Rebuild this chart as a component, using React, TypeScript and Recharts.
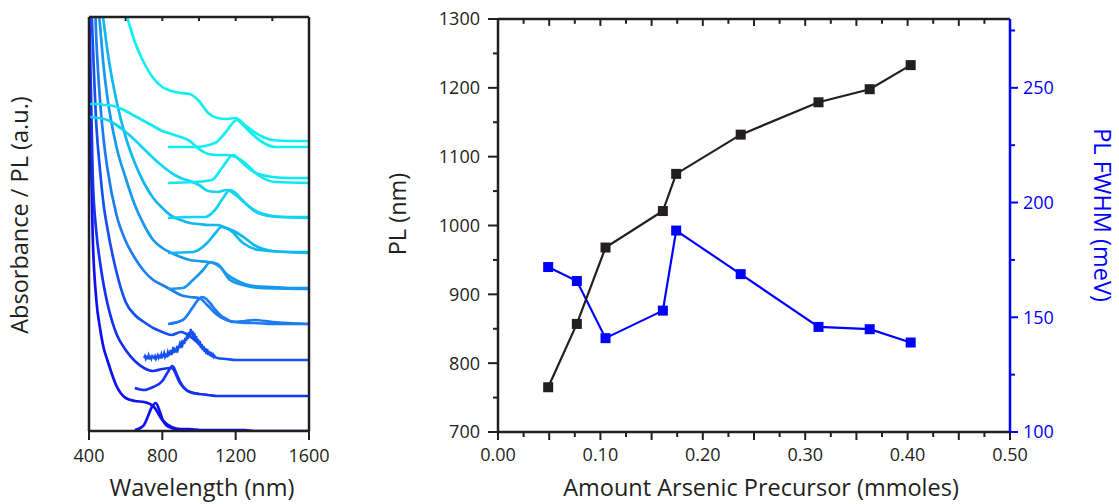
import React from 'react';
import { LineChart, Line, XAxis, YAxis, ReferenceLine } from 'recharts';

const FONT = '"Open Sans", "Noto Sans", sans-serif';
const INK = '#231f20';
const BLUE = '#0000ff';

// ---- left panel: stacked absorbance / PL spectra (a.u., bottom sample first) ----
const absWave = [400, 420, 440, 460, 480, 500, 550, 600, 650, 700, 750, 800, 850, 900, 950, 1000, 1050, 1100, 1150, 1200, 1250, 1300, 1400, 1500, 1600];
const absOffsets = [0, 35, 71, 107, 143, 179, 214, 253, 290];
const absSpectra = [
  [378, 196, 131, 103, 83, 71, 45, 33, 30, 29, 25, 11, 4, 2, 2, 1, 1, 1, 1, 1, 1, 0, 0, 0, 0],
  [396, 221, 164, 134, 111, 93, 62, 46, 35, 28, 25, 27, 28, 12, 4, 2, 1, 0, 0, 0, 0, 0, 0, 0, 0],
  [420, 320, 235, 190, 155, 132, 88, 58, 45, 38, 32, 28, 25, 28, 24, 16, 7, 2, 1, 0, 0, 0, 0, 0, 0],
  [524, 384, 284, 224, 184, 156, 109, 83, 66, 53, 44, 39, 34, 29, 27, 26, 18, 9, 4, 2, 1, 1, 0, 0, 0],
  [408, 348, 298, 263, 221, 191, 141, 110, 83, 63, 48, 40, 35, 31, 28, 27, 26, 24, 14, 8, 4, 2, 1, 0, 0],
  [402, 342, 292, 257, 230, 202, 151, 115, 89, 69, 54, 44, 36, 32, 29, 28, 27, 27, 24, 20, 14, 7, 1, 0, 0],
  [100, 100, 99, 99, 98, 97, 92, 85, 77, 68, 59, 51, 44, 39, 36, 32, 26, 25, 27, 22, 14, 7, 1, 0, 0],
  [74, 74, 74, 74, 73, 73, 71, 67, 62, 57, 52, 47, 44, 41, 37, 29, 24, 23, 23, 21, 13, 6, 1, 0, 0],
  [391, 341, 301, 266, 236, 211, 161, 129, 99, 78, 63, 54, 50, 48, 47, 40, 28, 23, 22, 23, 16, 9, 1, 0, 0],
];
const plOffsets = [1, 35, 72, 107, 142, 178, 213, 248, 284];
const plWaves = [
  [650, 680, 700, 720, 740, 765, 785, 800, 820, 850, 900, 1000],
  [650, 700, 750, 800, 830, 855, 880, 900, 930, 970, 1000],
  [700, 705, 710, 715, 720, 725, 730, 735, 740, 745,
    750, 755, 760, 765, 770, 775, 780, 785, 790, 795,
    800, 805, 810, 815, 820, 825, 830, 835, 840, 845,
    850, 855, 860, 865, 870, 875, 880, 885, 890, 895,
    900, 905, 910, 915, 920, 925, 930, 935, 940, 945,
    950, 955, 960, 965, 970, 975, 980, 985, 990, 995,
    1000, 1005, 1010, 1015, 1020, 1025, 1030, 1035, 1040, 1045,
    1050, 1055, 1060, 1065, 1070, 1075, 1080, 1085, 1090],
  [831, 912, 967, 990, 1016, 1040, 1060, 1090, 1115, 1150, 1185, 1250, 1300, 1400, 1600],
  [831, 912, 967, 1022, 1062, 1090, 1115, 1170, 1240, 1330, 1600],
  [831, 967, 1044, 1090, 1122, 1170, 1240, 1330, 1600],
  [831, 978, 1033, 1087, 1131, 1169, 1200, 1235, 1322, 1431, 1600],
  [831, 978, 1071, 1125, 1187, 1220, 1251, 1322, 1415, 1600],
  [831, 978, 1087, 1142, 1207, 1240, 1267, 1344, 1415, 1600],
];
const plSpectra = [
  [0, 2, 5, 13, 22, 27, 19, 11, 5, 2, 0, 0],
  [8, 6, 9, 15, 24, 30, 21, 13, 6, 3, 2],
  [1, 3, 0, 2, 1, 4, 1, 2, 0, 3,
    2, 1, 3, 0, 2, 4, 1, 3, 2, 5,
    2, 3, 6, 2, 4, 3, 7, 4, 5, 9,
    4, 7, 12, 6, 9, 8, 13, 9, 12, 15,
    11, 16, 14, 19, 15, 21, 18, 24, 20, 27,
    22, 30, 24, 28, 21, 26, 19, 23, 16, 20,
    14, 18, 11, 15, 9, 13, 7, 11, 5, 10,
    4, 8, 3, 7, 2, 6, 2, 3, 1],
  [0, 4, 17, 23, 27, 25, 21, 14, 9, 5, 2, 3, 4, 2, 0],
  [0, 1, 9, 19, 27, 25, 22, 9, 4, 1, 0],
  [0, 1, 10, 20, 26, 23, 10, 3, 0],
  [0, 1, 1, 8, 20, 28, 25, 18, 5, 1, 0],
  [0, 1, 3, 15, 28, 24, 20, 8, 1, 0],
  [0, 0, 4, 14, 27, 22, 17, 5, 0, 0],
];
const sampleColors = ['#1010ee', '#1432f2', '#1450f2', '#1c7cf0', '#1898ee', '#10b8f0', '#10d4f0', '#10e8f2', '#10f0f2'];
const noisySample = 2;
const wavelengthTicks = [400, 800, 1200, 1600];
const wavelengthTopTicks = [600, 800, 1000, 1200, 1400];
const auMax = 414;

// ---- right panel: PL position and width vs arsenic precursor ----
const arsenicAmount = [0.049, 0.077, 0.105, 0.161, 0.174, 0.237, 0.313, 0.363, 0.403];
const plPeakNm = [765, 857, 968, 1021, 1075, 1132, 1179, 1198, 1233];
const plFwhmMeV = [171.9, 165.8, 140.9, 152.9, 187.8, 168.8, 145.8, 144.8, 139.0];
const amountTicks = [0, 0.025, 0.05, 0.075, 0.1, 0.125, 0.15, 0.175, 0.2, 0.225, 0.25, 0.275, 0.3, 0.325, 0.35, 0.375, 0.4, 0.425, 0.45, 0.475, 0.5];
const plTicks = [700, 750, 800, 850, 900, 950, 1000, 1050, 1100, 1150, 1200, 1250, 1300];
const fwhmTicks = [100, 125, 150, 175, 200, 225, 250, 275];
const plMax = 1300;

const onStep = (v: number, step: number) => Math.abs(v / step - Math.round(v / step)) < 1e-6;

type Side = 'left' | 'right' | 'bottom';
interface TickStyle {
  side: Side;
  size: number;
  gap: number;
  len: (v: number) => number;
  label: (v: number) => string;
  color: string;
}

// draws its own tick lines so minor ticks can be shorter than major ones
function tickRenderer(s: TickStyle) {
  return (props: any) => {
    const { x, y, payload, index } = props;
    const v = payload.value as number;
    const len = s.len(v);
    const txt = s.label(v);
    const font = { fill: s.color, fontSize: 18, fontFamily: FONT };
    if (s.side === 'left') {
      const ax = x + s.size + s.gap;
      return (
        <g key={`tl${index}`}>
          <line x1={ax} y1={y} x2={ax - len} y2={y} stroke={s.color} strokeWidth={2} />
          {txt && <text x={ax - s.size - s.gap} y={y} dy="0.36em" textAnchor="end" {...font}>{txt}</text>}
        </g>
      );
    }
    if (s.side === 'right') {
      const ax = x - s.size - s.gap;
      return (
        <g key={`tr${index}`}>
          <line x1={ax} y1={y} x2={ax + len} y2={y} stroke={s.color} strokeWidth={2} />
          {txt && <text x={ax + s.size + s.gap} y={y} dy="0.36em" textAnchor="start" {...font}>{txt}</text>}
        </g>
      );
    }
    const ay = y - s.size - s.gap;
    return (
      <g key={`tb${index}`}>
        <line x1={x} y1={ay} x2={x} y2={ay + len} stroke={s.color} strokeWidth={2} />
        {txt && <text x={x} y={ay + s.size + s.gap} dy="0.72em" textAnchor="middle" {...font}>{txt}</text>}
      </g>
    );
  };
}

const squareDot = (color: string) => (p: any) => (
  <rect key={`d${p.index}`} x={p.cx - 5} y={p.cy - 5} width={10} height={10} fill={color} />
);

const titleStyle = (cx: number, cy: number, angle: number, color = INK): React.CSSProperties => ({
  position: 'absolute',
  left: cx,
  top: cy,
  transform: `translate(-50%, -50%) rotate(${angle}deg)`,
  whiteSpace: 'nowrap',
  fontFamily: FONT,
  fontSize: 23.5,
  lineHeight: 1,
  color,
});

function SpectraPanel() {
  const series = sampleColors.map((color, i) => ({
    color,
    abs: absWave.map((w, k) => ({ x: w, y: absOffsets[i] + absSpectra[i][k] })),
    pl: plWaves[i].map((w, k) => ({ x: w, y: plOffsets[i] + plSpectra[i][k] })),
  }));
  return (
    <LineChart width={340} height={504} margin={{ top: 17, right: 31, bottom: 33, left: 0 }}>
      <XAxis
        xAxisId="wl"
        dataKey="x"
        type="number"
        domain={[400, 1600]}
        allowDataOverflow
        ticks={wavelengthTicks}
        interval={0}
        height={40}
        tickSize={9}
        tickMargin={9}
        tickLine={false}
        axisLine={{ stroke: INK, strokeWidth: 2.5 }}
        tick={tickRenderer({ side: 'bottom', size: 9, gap: 9, color: INK, len: () => 9, label: (v) => String(v) })}
      />
      <XAxis xAxisId="wlTop" orientation="top" mirror type="number" domain={[400, 1600]} allowDataOverflow tick={false} tickLine={false} axisLine={{ stroke: INK, strokeWidth: 2.5 }} />
      <YAxis yAxisId="au" type="number" domain={[0, auMax]} allowDataOverflow width={89} tick={false} tickLine={false} axisLine={{ stroke: INK, strokeWidth: 2.5 }} />
      <YAxis yAxisId="frame" orientation="right" mirror type="number" domain={[0, auMax]} allowDataOverflow tick={false} tickLine={false} axisLine={{ stroke: INK, strokeWidth: 2.5 }} />
      {/* inward ticks along the top edge of the frame */}
      {wavelengthTopTicks.map((v) => (
        <ReferenceLine key={`wt${v}`} xAxisId="wl" yAxisId="au" segment={[{ x: v, y: auMax }, { x: v, y: auMax - 4 }]} stroke={INK} strokeWidth={2} />
      ))}
      {series.map((s, i) => (
        <Line
          key={`abs${i}`}
          xAxisId="wl"
          yAxisId="au"
          data={s.abs}
          dataKey="y"
          type="monotone"
          stroke={s.color}
          strokeWidth={2.7}
          dot={false}
          activeDot={false}
          isAnimationActive={false}
        />
      ))}
      {series.map((s, i) => (
        <Line
          key={`pl${i}`}
          xAxisId="wl"
          yAxisId="au"
          data={s.pl}
          dataKey="y"
          type={i === noisySample ? 'linear' : 'monotone'}
          stroke={s.color}
          strokeWidth={i === noisySample ? 2.2 : 2.7}
          dot={false}
          activeDot={false}
          isAnimationActive={false}
        />
      ))}
    </LineChart>
  );
}

function PlPanel() {
  const rows = arsenicAmount.map((a, i) => ({ amt: a, pl: plPeakNm[i], fwhm: plFwhmMeV[i] }));
  return (
    <LineChart width={739} height={504} data={rows} margin={{ top: 19, right: 49, bottom: 32, left: 0 }}>
      <XAxis
        xAxisId="amt"
        dataKey="amt"
        type="number"
        domain={[0, 0.5]}
        ticks={amountTicks}
        interval={0}
        height={40}
        tickSize={8}
        tickMargin={8}
        tickLine={false}
        axisLine={{ stroke: INK, strokeWidth: 2.5 }}
        tick={tickRenderer({ side: 'bottom', size: 8, gap: 8, color: INK, len: (v) => (onStep(v, 0.05) ? 8 : 5), label: (v) => (onStep(v, 0.1) ? v.toFixed(2) : '') })}
      />
      <XAxis xAxisId="amtTop" orientation="top" mirror type="number" domain={[0, 0.5]} allowDataOverflow tick={false} tickLine={false} axisLine={{ stroke: INK, strokeWidth: 2.5 }} />
      <YAxis
        yAxisId="pl"
        type="number"
        domain={[700, plMax]}
        ticks={plTicks}
        interval={0}
        width={118}
        tickSize={10}
        tickMargin={8}
        tickLine={false}
        axisLine={{ stroke: INK, strokeWidth: 2.5 }}
        tick={tickRenderer({ side: 'left', size: 10, gap: 8, color: INK, len: (v) => (onStep(v, 100) ? 10 : 5), label: (v) => (onStep(v, 100) ? String(v) : '') })}
      />
      <YAxis
        yAxisId="fwhm"
        orientation="right"
        type="number"
        domain={[100, 280]}
        ticks={fwhmTicks}
        interval={0}
        width={60}
        tickSize={8}
        tickMargin={5}
        tickLine={false}
        axisLine={{ stroke: BLUE, strokeWidth: 2.5 }}
        tick={tickRenderer({ side: 'right', size: 8, gap: 5, color: BLUE, len: (v) => (onStep(v, 50) ? 8 : 5), label: (v) => (onStep(v, 50) ? String(v) : '') })}
      />
      {/* inward ticks along the top edge of the frame */}
      {amountTicks.filter((v) => v > 0 && v < 0.5).map((v) => (
        <ReferenceLine key={`at${v}`} xAxisId="amt" yAxisId="pl" segment={[{ x: v, y: plMax }, { x: v, y: plMax - (onStep(v, 0.05) ? 10 : 7) }]} stroke={INK} strokeWidth={2} />
      ))}
      <Line xAxisId="amt" yAxisId="fwhm" dataKey="fwhm" type="linear" stroke={BLUE} strokeWidth={2.2} dot={squareDot(BLUE)} activeDot={false} isAnimationActive={false} />
      <Line xAxisId="amt" yAxisId="pl" dataKey="pl" type="linear" stroke={INK} strokeWidth={2.2} dot={squareDot(INK)} activeDot={false} isAnimationActive={false} />
    </LineChart>
  );
}

export default function App() {
  return (
    <div style={{ position: 'absolute', left: 0, top: 0, width: 1119, height: 504, background: '#fff', overflow: 'hidden' }}>
      <div style={{ position: 'absolute', left: 0, top: 0 }}>
        <SpectraPanel />
      </div>
      <div style={{ position: 'absolute', left: 380, top: 0 }}>
        <PlPanel />
      </div>
      <div style={titleStyle(20, 215, -90)}>Absorbance / PL (a.u.)</div>
      <div style={titleStyle(202, 488, 0)}>Wavelength (nm)</div>
      <div style={titleStyle(398, 214, -90)}>PL (nm)</div>
      <div style={titleStyle(761, 488, 0)}>Amount Arsenic Precursor (mmoles)</div>
      <div style={titleStyle(1102, 215, 90, BLUE)}>PL FWHM (meV)</div>
    </div>
  );
}
